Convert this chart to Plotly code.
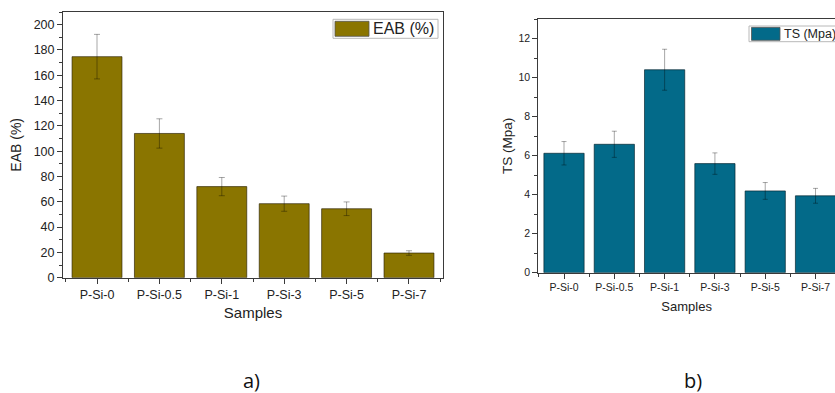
import plotly.graph_objects as go

# ---------------- data ----------------
samples = ["P-Si-0", "P-Si-0.5", "P-Si-1", "P-Si-3", "P-Si-5", "P-Si-7"]
eab_values = [174.7, 114.0, 72.0, 58.5, 54.5, 19.5]
eab_errors = [17.6, 11.6, 7.2, 6.0, 5.4, 1.8]
ts_values = [6.12, 6.58, 10.40, 5.59, 4.19, 3.94]
ts_errors = [0.60, 0.67, 1.05, 0.55, 0.43, 0.38]
eab_label = "EAB (%)"
ts_label = "TS (Mpa)"
x_title = "Samples"
panel_labels = ["a)", "b)"]

W, H = 835, 393
EAB_COLOR = "#8a7500"
TS_COLOR = "#036a89"
FONT = "Liberation Sans, Arial, sans-serif"
AX = "#3a3a3a"


def px(x):
    return x / W


def py(y):
    return 1 - y / H


xpos = list(range(len(samples)))

fig = go.Figure()
fig.add_trace(go.Bar(
    x=xpos, y=eab_values, width=0.8, name=eab_label, showlegend=False,
    marker=dict(color=EAB_COLOR, line=dict(color="rgba(40,30,0,0.8)", width=0.8)),
    error_y=dict(type="data", array=eab_errors, visible=True,
                 color="rgba(0,0,0,0.35)", thickness=1, width=3),
    xaxis="x", yaxis="y"))
fig.add_trace(go.Bar(
    x=xpos, y=ts_values, width=0.8, name=ts_label, showlegend=False,
    marker=dict(color=TS_COLOR, line=dict(color="rgba(0,30,40,0.8)", width=0.8)),
    error_y=dict(type="data", array=ts_errors, visible=True,
                 color="rgba(0,0,0,0.35)", thickness=1, width=2.5),
    xaxis="x2", yaxis="y2"))

common_x = dict(showline=True, linecolor=AX, linewidth=1, ticks="outside",
                tickcolor=AX, ticklen=5, tickvals=xpos, ticktext=samples,
                showgrid=False, zeroline=False, automargin=False,
                minor=dict(tick0=0.5, dtick=1, ticks="outside", ticklen=3,
                           tickcolor=AX, showgrid=False))

fig.update_layout(
    width=W, height=H, template="none",
    margin=dict(l=0, r=0, t=0, b=0),
    paper_bgcolor="white", plot_bgcolor="white",
    xaxis=dict(common_x, domain=[px(63), px(443)], range=[-0.545, 5.545],
               mirror=True, anchor="y",
               tickfont=dict(family=FONT, size=12.5, color="#222"),
               title=dict(text=x_title, font=dict(family=FONT, size=15, color="#222"),
                          standoff=6)),
    yaxis=dict(domain=[py(277.7), py(12)], range=[0, 210], anchor="x",
               showline=True, mirror=True, linecolor=AX, linewidth=1,
               ticks="outside", ticklen=5, tickcolor=AX, dtick=20, tick0=0,
               showgrid=False, zeroline=False, automargin=False,
               tickfont=dict(family=FONT, size=12.5, color="#222"),
               minor=dict(dtick=10, ticks="outside", ticklen=3, tickcolor=AX,
                          showgrid=False),
               title=dict(text=eab_label, font=dict(family=FONT, size=14, color="#222"),
                          standoff=8)),
    xaxis2=dict(common_x, domain=[px(538.3), 1.0], range=[-0.511, 5.387],
                mirror=True, anchor="y2",
                tickfont=dict(family=FONT, size=10.5, color="#222"),
                title=dict(text=x_title, font=dict(family=FONT, size=13, color="#222"),
                           standoff=9)),
    yaxis2=dict(domain=[py(272.7), py(19)], range=[0, 13], anchor="x2",
                showline=True, mirror=False, linecolor=AX, linewidth=1,
                ticks="outside", ticklen=5, tickcolor=AX, dtick=2, tick0=0,
                showgrid=False, zeroline=False, automargin=False,
                tickfont=dict(family=FONT, size=10.5, color="#222"),
                minor=dict(dtick=1, ticks="outside", ticklen=3, tickcolor=AX,
                           showgrid=False),
                title=dict(text=ts_label, font=dict(family=FONT, size=13.5, color="#222"),
                           standoff=2)),
)

# manual legends (boxes, swatches, labels)
shapes = [
    dict(type="rect", xref="paper", yref="paper", x0=px(333), x1=px(438),
         y0=py(38.3), y1=py(19.3), line=dict(color="#b8b8b8", width=1),
         fillcolor="white"),
    dict(type="rect", xref="paper", yref="paper", x0=px(335), x1=px(369),
         y0=py(36.3), y1=py(21.3), line=dict(color="#555", width=0.8),
         fillcolor=EAB_COLOR),
    dict(type="rect", xref="paper", yref="paper", x0=px(749), x1=px(840),
         y0=py(41.7), y1=py(26), line=dict(color="#b8b8b8", width=1),
         fillcolor="white"),
    dict(type="rect", xref="paper", yref="paper", x0=px(751.5), x1=px(780),
         y0=py(40.3), y1=py(27.4), line=dict(color="#555", width=0.8),
         fillcolor=TS_COLOR),
]
fig.update_layout(shapes=shapes)

annotations = [
    dict(text=eab_label, xref="paper", yref="paper", x=px(371), y=py(29),
         xanchor="left", yanchor="middle", showarrow=False,
         font=dict(family=FONT, size=16, color="#222")),
    dict(text=ts_label, xref="paper", yref="paper", x=px(782), y=py(34),
         xanchor="left", yanchor="middle", showarrow=False,
         font=dict(family=FONT, size=12.5, color="#222")),
    dict(text=panel_labels[0], xref="paper", yref="paper", x=px(252), y=py(380),
         xanchor="center", yanchor="middle", showarrow=False,
         font=dict(family="Open Sans, Noto Sans, sans-serif", size=20, color="#111")),
    dict(text=panel_labels[1], xref="paper", yref="paper", x=px(693), y=py(380),
         xanchor="center", yanchor="middle", showarrow=False,
         font=dict(family="Open Sans, Noto Sans, sans-serif", size=20, color="#111")),
]
fig.update_layout(annotations=annotations)

fig.write_html(
    "out.html",
    config={"displayModeBar": False},
    post_script="document.body.style.margin='0';"
                "document.body.style.overflow='hidden';"
                "document.documentElement.style.overflow='hidden';",
)
